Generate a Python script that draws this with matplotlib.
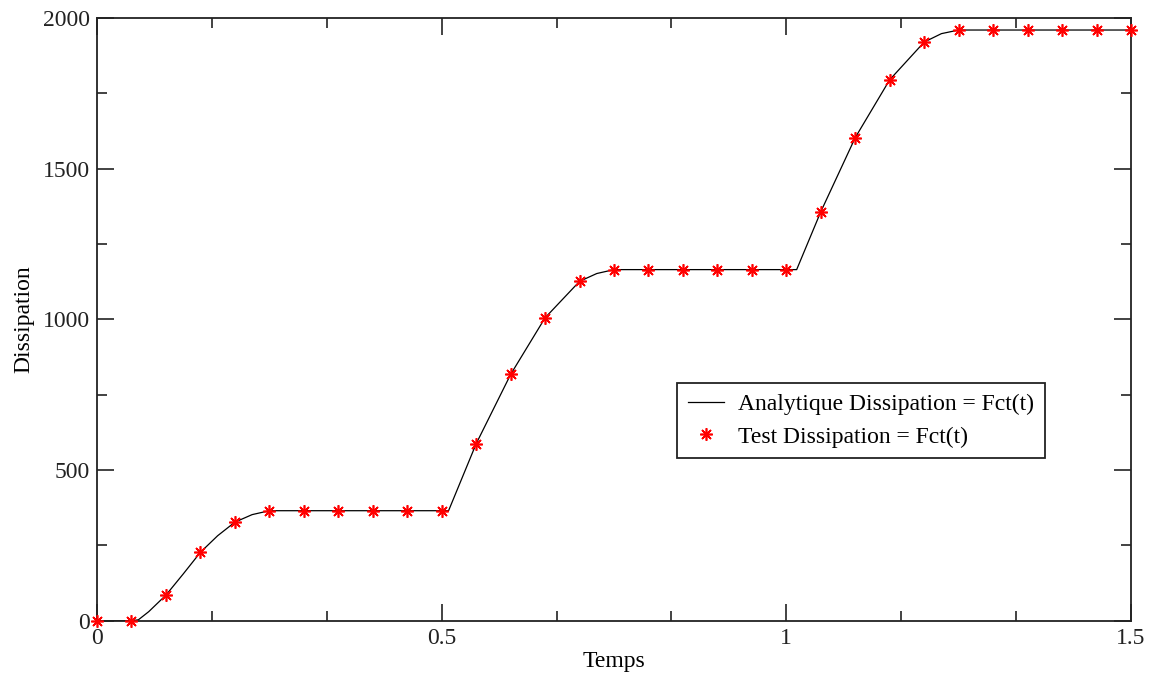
import numpy as np
import matplotlib
matplotlib.use("Agg")
import matplotlib.pyplot as plt
from matplotlib.ticker import MultipleLocator

## Analytic curve
t_ana = [0.0, 0.05, 0.06, 0.075, 0.1, 0.125, 0.15, 0.175, 0.2, 0.225, 0.25,
	0.5, 0.51, 0.55, 0.6, 0.65, 0.7, 0.725, 0.75,
	1.0, 1.015, 1.05, 1.1, 1.15, 1.2, 1.225, 1.25, 1.5]
d_ana = [0, 0, 3, 30, 85, 155, 227, 282, 327, 352, 365,
	365, 365, 587, 817, 1005, 1126, 1152, 1165,
	1165, 1165, 1357, 1603, 1795, 1920, 1948, 1960, 1960]

## Test points, every 0.05
t_test = [0.0, 0.05, 0.1, 0.15, 0.2, 0.25, 0.3, 0.35, 0.4, 0.45, 0.5,
	0.55, 0.6, 0.65, 0.7, 0.75, 0.8, 0.85, 0.9, 0.95, 1.0,
	1.05, 1.1, 1.15, 1.2, 1.25, 1.3, 1.35, 1.4, 1.45, 1.5]
d_test = [0, 0, 85, 227, 327, 365, 365, 365, 365, 365, 365,
	587, 817, 1005, 1126, 1165, 1165, 1165, 1165, 1165, 1165,
	1357, 1603, 1795, 1920, 1960, 1960, 1960, 1960, 1960, 1960]

xticks = [0, 0.5, 1, 1.5]
xticklabels = ["0", "0.5", "1", "1.5"]
yticks = [0, 500, 1000, 1500, 2000]

plt.rcParams["font.family"] = ["Liberation Serif", "DejaVu Serif"]
fs = 17

fig = plt.figure(figsize=(11.62, 6.78), dpi=100)
ax = fig.add_axes([0.0835, 0.0845, 0.8898, 0.889])

ax.plot(t_ana, d_ana, "k-", lw=0.9, label="Analytique Dissipation = Fct(t)")
ax.plot(t_test, d_test, ls="none", marker=(8, 2, 0), ms=9, mew=1.2,
	color="red", label="Test Dissipation = Fct(t)", clip_on=False, zorder=3)

## Accoutrements
ax.set_xlim(0, 1.5)
ax.set_ylim(0, 2000)
ax.set_xticks(xticks)
ax.set_xticklabels(xticklabels)
ax.set_yticks(yticks)
ax.xaxis.set_minor_locator(MultipleLocator(0.5/3))
ax.yaxis.set_minor_locator(MultipleLocator(250))
ax.tick_params(which="both", direction="in", top=True, right=True,
	labelsize=fs, width=1.2, colors="#222222", labelcolor="#222222")
ax.tick_params(which="major", length=12, pad=5)
ax.tick_params(which="minor", length=7)
for sp in ax.spines.values():
	sp.set_linewidth(1.3)
	sp.set_color("#222222")

ax.set_xlabel("Temps", fontsize=fs, labelpad=2)
ax.set_ylabel("Dissipation", fontsize=fs, labelpad=6)

leg = ax.legend(loc="upper left", bbox_to_anchor=(0.561, 0.394), fontsize=fs,
	frameon=True, fancybox=False, edgecolor="#222222", framealpha=1,
	handlelength=1.55, borderpad=0.45, labelspacing=0.45, handletextpad=0.6,
	borderaxespad=0)
leg.get_frame().set_linewidth(1.3)

fig.savefig("out.png", dpi=100)
